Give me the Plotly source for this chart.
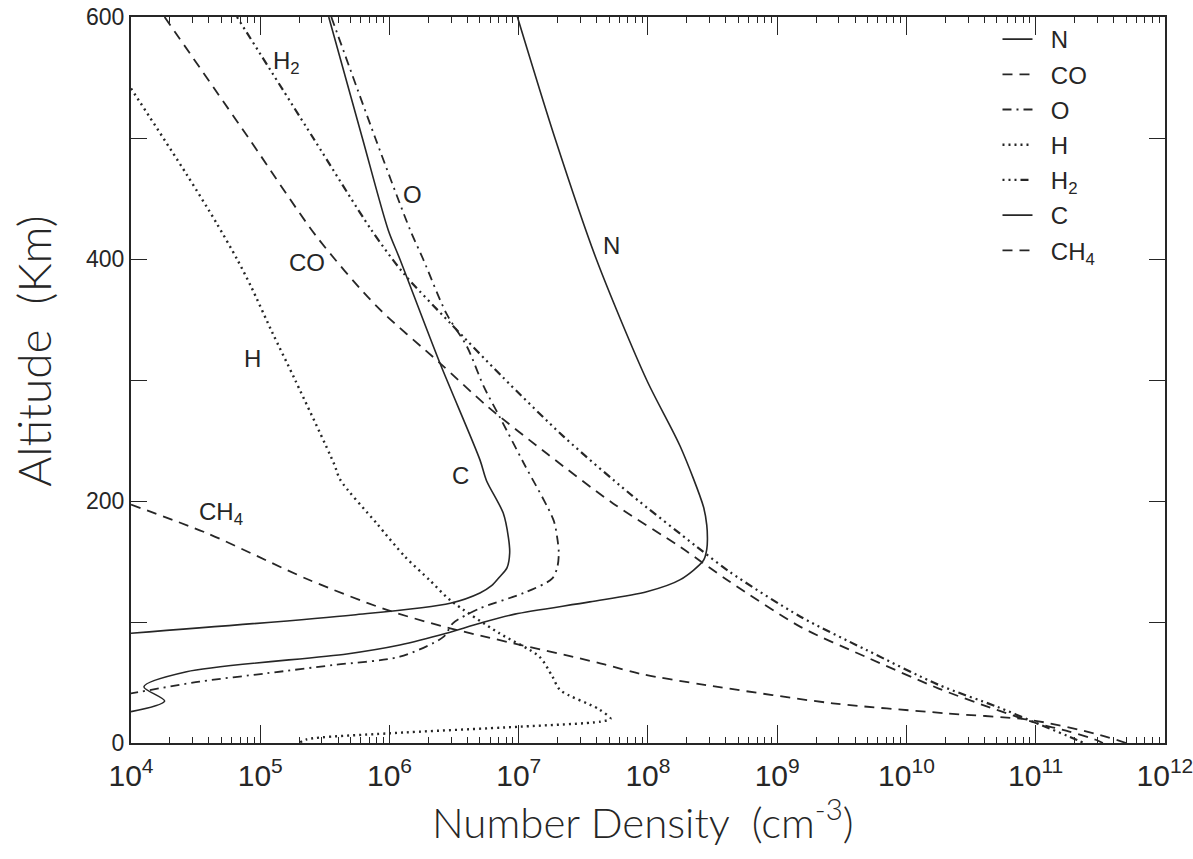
import plotly.graph_objects as go

# ---------------- data (altitude in km, log10 number density in cm^-3) ----------------
alt_N = [600, 500, 400, 300, 245, 195, 180, 168, 160, 151, 135, 125, 116.6, 106.5, 99, 90.7, 81, 73.6, 58.9, 46.5, 34.7, 25.9]
lg_N = [6.99, 7.28, 7.60, 7.99, 8.25, 8.43, 8.455, 8.46, 8.455, 8.43, 8.25, 7.99, 7.55, 6.97, 6.70, 6.44, 6.08, 5.67, 4.43, 4.10, 4.26, 4.00]

alt_CO = [600, 500, 418, 361, 314, 278, 239, 198, 162, 135, 96, 71, 45, 27.3, 16.3, 9.4, 2.5, 0]
lg_CO = [4.26, 4.91, 5.44, 5.90, 6.39, 6.76, 7.22, 7.73, 8.25, 8.61, 9.18, 9.69, 10.25, 10.70, 11.01, 11.26, 11.47, 11.52]

alt_O = [600, 500, 424, 400, 355, 327.5, 294.5, 270, 231, 184, 168, 157, 146, 136, 124, 111.3, 98.9, 87.9, 71.3, 64.5, 57.6, 50.7, 41]
lg_O = [5.55, 5.89, 6.16, 6.26, 6.44, 6.60, 6.73, 6.85, 7.04, 7.27, 7.30, 7.31, 7.30, 7.26, 7.04, 6.70, 6.49, 6.42, 6.08, 5.57, 5.05, 4.53, 4.00]

alt_H = [541, 470, 430, 400, 377, 340, 300, 231, 217.4, 181.6, 154, 134.7, 118, 90.7, 71.3, 55, 43.8, 28, 20, 17.6, 13.5, 8, 3, 0]
lg_H = [4.00, 4.43, 4.66, 4.82, 4.93, 5.09, 5.27, 5.57, 5.62, 5.90, 6.12, 6.31, 6.47, 6.85, 7.16, 7.26, 7.32, 7.62, 7.71, 7.63, 7.01, 6.00, 5.36, 5.30]

alt_H2 = [600, 500, 424, 388, 347, 303, 253, 206, 162, 141.6, 104.4, 76.9, 48, 30, 16.3, 2.5, 0]
lg_H2 = [4.82, 5.41, 5.86, 6.11, 6.47, 6.87, 7.35, 7.86, 8.38, 8.63, 9.18, 9.69, 10.25, 10.70, 11.01, 11.32, 11.37]

alt_C = [600, 500, 424, 400, 314, 234, 217, 190, 170, 157, 145, 137, 130, 124, 115.5, 105.8, 90.7]
lg_C = [5.53, 5.79, 5.99, 6.08, 6.39, 6.70, 6.75, 6.88, 6.92, 6.93, 6.91, 6.85, 6.79, 6.70, 6.47, 5.72, 4.00]

alt_CH4 = [197, 173.3, 134.7, 110, 94.8, 65.9, 57, 47.9, 32.8, 24.5, 19, 8, 0]
lg_CH4 = [4.00, 4.59, 5.38, 5.98, 6.47, 7.63, 7.95, 8.45, 9.43, 10.31, 10.96, 11.45, 11.70]

y_ticks = [0, 100, 200, 300, 400, 500, 600]
y_ticklabels = ["0", "", "200", "", "400", "", "600"]

# curve labels: (text, log10 density, altitude)
curve_labels = [
    ("H<sub>2</sub>", 5.20, 562),
    ("O", 6.18, 453),
    ("N", 7.72, 411),
    ("CO", 5.36, 397),
    ("H", 4.94, 318),
    ("C", 6.55, 221),
    ("CH<sub>4</sub>", 4.70, 190),
]

# ---------------- figure ----------------
INK = "#262626"
LABEL_FONT = "Liberation Sans, Arial, sans-serif"
TITLE_FONT = "Lato, Liberation Sans, sans-serif"

series = [
    ("N", alt_N, lg_N, dict(dash="solid", width=1.6)),
    ("CO", alt_CO, lg_CO, dict(dash="10px,7px", width=1.8)),
    ("O", alt_O, lg_O, dict(dash="9px,5px,2px,5px", width=1.8)),
    ("H", alt_H, lg_H, dict(dash="2px,4px", width=2.4)),
    ("H<sub>2</sub>", alt_H2, lg_H2, dict(dash="2px,4px,2px,4px,2px,4px,8px,4px", width=2.2)),
    ("C", alt_C, lg_C, dict(dash="solid", width=1.6)),
    ("CH<sub>4</sub>", alt_CH4, lg_CH4, dict(dash="10px,7px", width=1.8)),
]

fig = go.Figure()
for i, (name, alts, lgs, st) in enumerate(series):
    fig.add_trace(go.Scatter(
        x=[10 ** v for v in lgs], y=alts, mode="lines", name="\u00a0\u00a0" + name,
        legendgroup=f"g{i}",
        line=dict(color=INK, width=st["width"], dash=st["dash"], shape="spline", smoothing=0.8),
    ))

for text, lx, ly in curve_labels:
    fig.add_annotation(x=lx, y=ly, text=text, showarrow=False,
                       font=dict(family=LABEL_FONT, size=24, color=INK))

# axis titles placed as paper annotations
fig.add_annotation(xref="paper", yref="paper", x=-0.094, y=0.54, textangle=-90,
                   text="Altitude\u00a0\u00a0(Km)", showarrow=False,
                   xanchor="center", yanchor="middle",
                   font=dict(family=TITLE_FONT, size=46, color=INK, weight=300))
fig.add_annotation(xref="paper", yref="paper", x=0.495, y=-0.104,
                   text="Number Density\u00a0\u00a0(cm<sup>-3</sup>)", showarrow=False,
                   xanchor="center", yanchor="middle",
                   font=dict(family=TITLE_FONT, size=42, color=INK, weight=300))

fig.update_layout(
    xaxis=dict(
        type="log", range=[4, 12.0005], automargin=False,
        tickmode="linear", tick0=0, dtick=1,
        exponentformat="power", showexponent="all",
        ticklabeloverflow="allow",
        ticks="inside", ticklen=18, tickwidth=1.3, tickcolor=INK,
        ticklabelstandoff=6,
        minor=dict(ticks="inside", ticklen=6, tickwidth=1.1, tickcolor=INK,
                   dtick="D1", showgrid=False),
        showline=True, linewidth=2.2, linecolor=INK, mirror="allticks",
        showgrid=False, zeroline=False,
        tickfont=dict(family=LABEL_FONT, size=24, color=INK),
    ),
    yaxis=dict(
        range=[0, 600], tickmode="array", tickvals=y_ticks, ticktext=y_ticklabels,
        automargin=False,
        ticks="inside", ticklen=16, tickwidth=1.3, tickcolor=INK,
        showline=True, linewidth=2.2, linecolor=INK, mirror="allticks",
        showgrid=False, zeroline=False,
        tickfont=dict(family=LABEL_FONT, size=23, color=INK),
    ),
    width=1193, height=859,
    margin=dict(l=131, r=28, t=17, b=116),
    plot_bgcolor="white", paper_bgcolor="white",
    legend=dict(x=0.838, y=1.0, xanchor="left", yanchor="top",
                bgcolor="rgba(0,0,0,0)", traceorder="grouped", tracegroupgap=1,
                font=dict(family=LABEL_FONT, size=24, color=INK)),
)

fig.write_html("out.html")
